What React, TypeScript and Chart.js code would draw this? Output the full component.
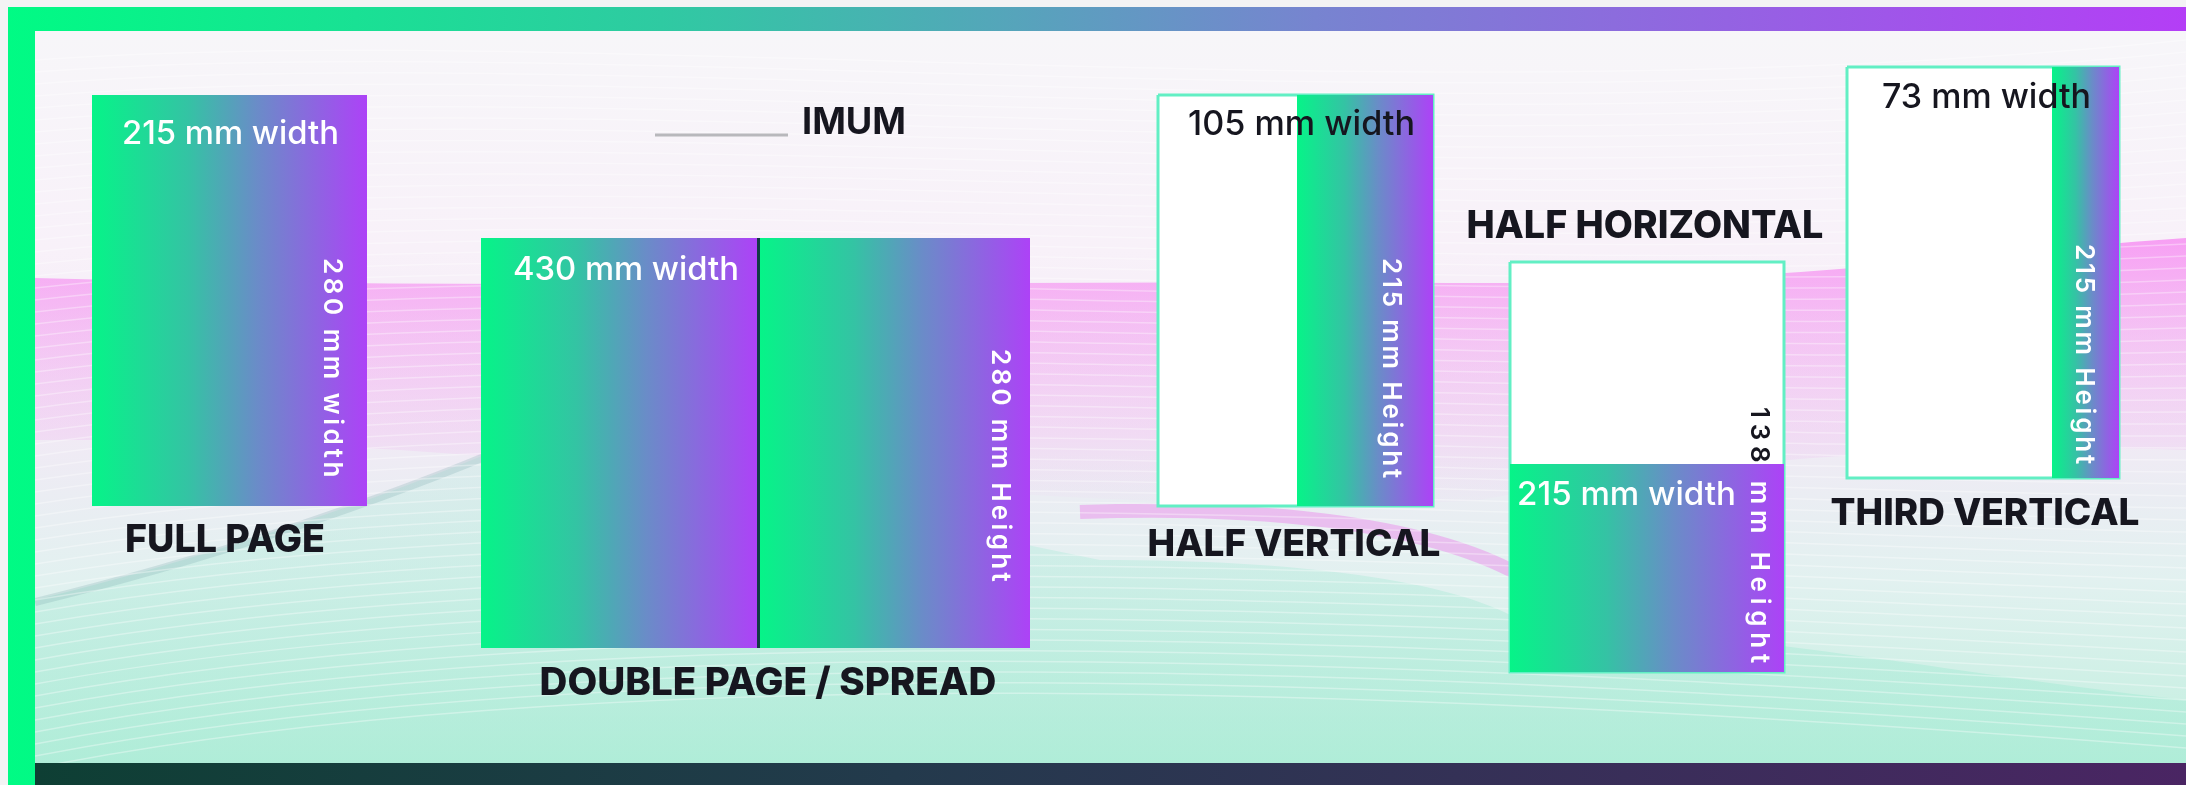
import { useEffect, useRef } from 'react';
import { Chart, registerables } from 'chart.js';

Chart.register(...registerables);

const W = 2186;
const H = 785;

// ---- content ----
const adTypes = ['FULL PAGE', 'DOUBLE PAGE / SPREAD', 'HALF VERTICAL', 'HALF HORIZONTAL', 'THIRD VERTICAL'];
const widthLabels = ['215 mm width', '430 mm width', '105 mm width', '215 mm width', '73 mm width'];
const heightLabels = ['280 mm width', '280 mm Height', '215 mm Height', '138 mm Height', '215 mm Height'];
const partialHeading = 'IMUM';

// ---- layout (layout units on the hidden linear scales) ----
const pageLeft = [92, 481, 1158, 1510, 1847];
const pageRight = [367, 1030, 1433, 1784, 2119];
const pageTop = [95, 238, 95, 262, 67];
const pageBottom = [506, 648, 506, 672, 478];
const colorLeft = [92, 481, 1297, 1510, 2052];
const colorTop = [95, 238, 95, 464, 67];
const outlined = [false, false, true, true, true];
const spreadFold = 757;

const widthLabelX = [122, 513, 1188, 1517, 1882];
const widthLabelY = [134, 270, 125, 495, 98];
const widthLabelW = [217, 226, 227, 219, 209];
const widthLabelDark = [false, false, true, false, true];

const heightLabelX = [332, 1000, 1391, 1759, 2084];
const heightLabelY = [258, 349, 258, 407, 244];
const heightLabelLen = [223, 236, 223, 262, 223];

const titleX = [225, 768, 1294, 1645, 1985];
const titleY = [541, 683, 545, 227, 514];
const titleW = [200, 457, 293, 357, 309];

const FONT = 'Inter, "Noto Sans", sans-serif';
const DARK = '#16161f';

function rectPoints(x0: number, x1: number, y0: number, y1: number) {
  return [
    { x: x0, y: y0 },
    { x: x1, y: y0 },
    { x: x1, y: y1 },
    { x: x0, y: y1 },
    { x: x0, y: y0 },
  ];
}

function gradientFill(x0: number, x1: number) {
  return (c: any) => {
    const chart = c.chart;
    const xs = chart.scales && chart.scales.x;
    if (!xs) return '#4aa8b4';
    const a = xs.getPixelForValue(x0);
    const b = xs.getPixelForValue(x1);
    if (!isFinite(a) || !isFinite(b)) return '#4aa8b4';
    const g = chart.ctx.createLinearGradient(a, 0, b, 0);
    g.addColorStop(0, '#06f488');
    g.addColorStop(0.35, '#34c3a4');
    g.addColorStop(0.6, '#6a8cc8');
    g.addColorStop(1, '#ad42f7');
    return g;
  };
}

function buildDatasets() {
  const ds: any[] = [];
  const base = {
    type: 'line',
    showLine: true,
    fill: 'shape',
    pointRadius: 0,
    pointHoverRadius: 0,
    tension: 0,
  };
  for (let i = 0; i < adTypes.length; i++) {
    if (outlined[i]) {
      ds.push({
        ...base,
        label: adTypes[i] + ' page',
        data: rectPoints(pageLeft[i], pageRight[i], pageTop[i], pageBottom[i]),
        backgroundColor: '#ffffff',
        borderColor: '#62efc4',
        borderWidth: 3,
        order: 3,
      });
    }
    if (i === 1) {
      ds.push({
        ...base,
        label: adTypes[i] + ' left',
        data: rectPoints(colorLeft[i], spreadFold, colorTop[i], pageBottom[i]),
        backgroundColor: gradientFill(colorLeft[i], spreadFold),
        borderWidth: 0,
        order: 2,
      });
      ds.push({
        ...base,
        label: adTypes[i] + ' right',
        data: rectPoints(spreadFold + 3, pageRight[i], colorTop[i], pageBottom[i]),
        backgroundColor: gradientFill(spreadFold + 3, pageRight[i]),
        borderWidth: 0,
        order: 2,
      });
      ds.push({
        ...base,
        label: adTypes[i] + ' fold',
        data: rectPoints(spreadFold, spreadFold + 3, colorTop[i], pageBottom[i]),
        backgroundColor: '#123c46',
        borderWidth: 0,
        order: 1,
      });
    } else {
      ds.push({
        ...base,
        label: adTypes[i] + ' ad',
        data: rectPoints(colorLeft[i], pageRight[i], colorTop[i], pageBottom[i]),
        backgroundColor: gradientFill(colorLeft[i], pageRight[i]),
        borderWidth: 0,
        order: 2,
      });
    }
  }
  return ds;
}

const backgroundPlugin = {
  id: 'backdrop',
  beforeDraw(chart: any) {
    const ctx: CanvasRenderingContext2D = chart.ctx;
    ctx.save();
    ctx.fillStyle = '#f3f3f4';
    ctx.fillRect(0, 0, W, H);
    // frame
    const fg = ctx.createLinearGradient(8, 0, W, 0);
    fg.addColorStop(0, '#00fb84');
    fg.addColorStop(0.3, '#2fcaa2');
    fg.addColorStop(0.6, '#7784d0');
    fg.addColorStop(1, '#b43ef6');
    ctx.fillStyle = fg;
    ctx.fillRect(8, 7, W - 8, H - 7);
    // bottom shadow
    const sg = ctx.createLinearGradient(35, 0, W, 0);
    sg.addColorStop(0, '#0e3f34');
    sg.addColorStop(0.4, '#233a4c');
    sg.addColorStop(1, '#4a2563');
    ctx.fillStyle = sg;
    ctx.fillRect(35, 763, W - 35, H - 763);
    // panel
    const pg = ctx.createLinearGradient(0, 31, 0, 763);
    pg.addColorStop(0, '#f7f6f9');
    pg.addColorStop(0.3, '#f8f1f9');
    pg.addColorStop(0.55, '#f1eaf5');
    pg.addColorStop(0.75, '#e2f1f0');
    pg.addColorStop(1, '#c0efde');
    ctx.fillStyle = pg;
    ctx.fillRect(35, 31, W - 35, 763 - 31);

    ctx.beginPath();
    ctx.rect(35, 31, W - 35, 763 - 31);
    ctx.clip();

    // pink swoosh band (strong at top edge, fading downward)
    const pink = ctx.createLinearGradient(0, 240, 0, 520);
    pink.addColorStop(0, 'rgba(246,110,240,0.62)');
    pink.addColorStop(0.3, 'rgba(244,140,240,0.48)');
    pink.addColorStop(0.7, 'rgba(240,175,240,0.25)');
    pink.addColorStop(1, 'rgba(240,190,240,0.0)');
    ctx.fillStyle = pink;
    ctx.beginPath();
    ctx.moveTo(35, 278);
    ctx.bezierCurveTo(500, 290, 1000, 280, 1450, 283);
    ctx.bezierCurveTo(1800, 285, 2000, 250, W, 238);
    ctx.lineTo(W, 450);
    ctx.bezierCurveTo(1900, 440, 1650, 470, 1480, 500);
    ctx.bezierCurveTo(1200, 520, 700, 470, 400, 450);
    ctx.bezierCurveTo(200, 440, 100, 440, 35, 440);
    ctx.closePath();
    ctx.fill();

    // thin pink ribbon under HALF VERTICAL
    ctx.strokeStyle = 'rgba(236,130,236,0.45)';
    ctx.lineWidth = 14;
    ctx.beginPath();
    ctx.moveTo(1080, 512);
    ctx.bezierCurveTo(1250, 506, 1420, 520, 1520, 575);
    ctx.stroke();

    // mint lower area with soft teal edge
    const mint = ctx.createLinearGradient(0, 460, 0, 763);
    mint.addColorStop(0, 'rgba(190,235,225,0.35)');
    mint.addColorStop(1, 'rgba(170,236,214,0.75)');
    ctx.fillStyle = mint;
    ctx.beginPath();
    ctx.moveTo(35, 600);
    ctx.bezierCurveTo(200, 560, 380, 500, 520, 440);
    ctx.lineTo(1100, 560);
    ctx.bezierCurveTo(1300, 560, 1450, 580, 1520, 620);
    ctx.bezierCurveTo(1800, 640, 2000, 680, W, 700);
    ctx.lineTo(W, 763);
    ctx.lineTo(35, 763);
    ctx.closePath();
    ctx.fill();

    ctx.strokeStyle = 'rgba(110,160,165,0.22)';
    ctx.lineWidth = 8;
    ctx.beginPath();
    ctx.moveTo(35, 602);
    ctx.bezierCurveTo(200, 562, 380, 502, 520, 442);
    ctx.stroke();

    // fine line texture
    ctx.strokeStyle = 'rgba(255,255,255,0.35)';
    ctx.lineWidth = 1.5;
    for (let k = 0; k < 60; k++) {
      const off = k * 12;
      ctx.beginPath();
      ctx.moveTo(35, 60 + off);
      ctx.bezierCurveTo(600, 20 + off * 0.9, 1400, 120 + off * 0.8, W, 40 + off);
      ctx.stroke();
    }
    ctx.restore();
  },
};

function fitSize(ctx: CanvasRenderingContext2D, text: string, weight: string, target: number) {
  ctx.font = `${weight} 100px ${FONT}`;
  const w = ctx.measureText(text).width;
  return (100 * target) / w;
}

const textPlugin = {
  id: 'adText',
  afterDatasetsDraw(chart: any) {
    const ctx: CanvasRenderingContext2D = chart.ctx;
    const xs = chart.scales.x;
    const ys = chart.scales.y;
    const px = (v: number) => xs.getPixelForValue(v);
    const py = (v: number) => ys.getPixelForValue(v);
    ctx.save();
    ctx.textBaseline = 'middle';

    // partial heading + rule
    ctx.strokeStyle = '#b8b8bc';
    ctx.lineWidth = 3;
    ctx.beginPath();
    ctx.moveTo(px(655), py(135));
    ctx.lineTo(px(788), py(135));
    ctx.stroke();
    ctx.fillStyle = DARK;
    ctx.textAlign = 'left';
    const hs = fitSize(ctx, partialHeading, '700', 104);
    ctx.font = `700 ${hs}px ${FONT}`;
    ctx.fillText(partialHeading, px(802), py(123));

    for (let i = 0; i < adTypes.length; i++) {
      // width labels
      const ws = fitSize(ctx, widthLabels[i], '500', widthLabelW[i]);
      ctx.font = `500 ${ws}px ${FONT}`;
      ctx.textAlign = 'left';
      ctx.fillStyle = widthLabelDark[i] ? DARK : '#ffffff';
      ctx.fillText(widthLabels[i], px(widthLabelX[i]), py(widthLabelY[i]));

      // titles
      const ts = fitSize(ctx, adTypes[i], '800', titleW[i]);
      ctx.font = `800 ${ts}px ${FONT}`;
      ctx.textAlign = 'center';
      ctx.fillStyle = DARK;
      ctx.fillText(adTypes[i], px(titleX[i]), py(titleY[i]));

      // rotated height labels
      const fs = 26;
      ctx.font = `600 ${fs}px ${FONT}`;
      (ctx as any).letterSpacing = '0px';
      const nat = ctx.measureText(heightLabels[i]).width;
      const n = heightLabels[i].length;
      const ls = Math.max(0, (heightLabelLen[i] - nat) / n);
      const drawRot = (color: string) => {
        ctx.save();
        ctx.translate(px(heightLabelX[i]), py(heightLabelY[i]));
        ctx.rotate(Math.PI / 2);
        ctx.font = `600 ${fs}px ${FONT}`;
        (ctx as any).letterSpacing = `${ls}px`;
        ctx.textAlign = 'left';
        ctx.fillStyle = color;
        ctx.fillText(heightLabels[i], 0, 0);
        ctx.restore();
      };
      if (colorTop[i] > pageTop[i]) {
        ctx.save();
        ctx.beginPath();
        ctx.rect(0, 0, W, py(colorTop[i]));
        ctx.clip();
        drawRot(DARK);
        ctx.restore();
        ctx.save();
        ctx.beginPath();
        ctx.rect(0, py(colorTop[i]), W, H);
        ctx.clip();
        drawRot('#ffffff');
        ctx.restore();
      } else {
        drawRot('#ffffff');
      }
    }
    (ctx as any).letterSpacing = '0px';
    ctx.restore();
  },
};

export default function App() {
  const ref = useRef<HTMLCanvasElement | null>(null);
  useEffect(() => {
    document.body.style.margin = '0';
    if (!ref.current) return;
    const chart = new Chart(ref.current, {
      type: 'line',
      data: { datasets: buildDatasets() },
      options: {
        animation: false,
        responsive: false,
        events: [],
        layout: { padding: 0 },
        scales: {
          x: { type: 'linear', min: 0, max: W, display: false },
          y: { type: 'linear', min: 0, max: H, reverse: true, display: false },
        },
        plugins: {
          legend: { display: false },
          tooltip: { enabled: false },
          title: { display: false },
        },
      },
      plugins: [backgroundPlugin, textPlugin],
    } as any);
    return () => chart.destroy();
  }, []);
  return (
    <div style={{ width: W, height: H }}>
      <canvas ref={ref} width={W} height={H} style={{ display: 'block', width: W, height: H }} />
    </div>
  );
}
